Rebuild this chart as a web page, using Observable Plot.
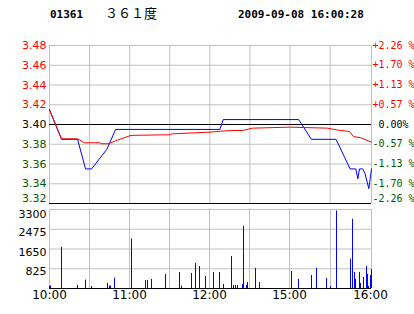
<!DOCTYPE html>
<html>
<head>
<meta charset="utf-8">
<script src="https://cdn.jsdelivr.net/npm/d3@7"></script>
<script src="https://cdn.jsdelivr.net/npm/@observablehq/plot@0.6"></script>
<style>
  html, body { margin: 0; padding: 0; background: #fff; }
  #wrap { position: relative; width: 414px; height: 314px; background: #fff; overflow: hidden; }
  .hdr { position: absolute; top: 8px; font-size: 11px; line-height: 14px; white-space: pre; color: #000; }
  .mono { font-family: "DejaVu Sans Mono", monospace; font-weight: bold; }
  .cjk { font-family: "Noto Sans CJK SC", sans-serif; font-size: 13px; top: 6px; }
  #p1, #p2 { position: absolute; left: 0; }
  #p1 { top: 0; }
  #p2 { top: 200px; }
</style>
</head>
<body>
<div id="wrap">
  <div class="hdr mono" id="code" style="left:50px"></div>
  <div class="hdr cjk" id="name" style="left:105px"></div>
  <div class="hdr mono" id="stamp" style="left:238px"></div>
  <div id="p1"></div>
  <div id="p2"></div>
</div>
<script>
// ---- header texts ----
const stockCode = "01361";
const stockName = "３６１度";
const stampText = "2009-09-08 16:00:28";

// ---- price axis ----
const priceTicks = [3.48, 3.46, 3.44, 3.42, 3.40, 3.38, 3.36, 3.34, 3.32];
const pctLabels = ["+2.26 %", "+1.70 %", "+1.13 %", "+0.57 %", "\u00a00.00%", "-0.57 %", "-1.13 %", "-1.70 %", "-2.26 %"];
const prevClose = 3.40;

// ---- time axis (minute index: 0 = 10:00, 150 = 12:30/14:30, 240 = 16:00) ----
const timeTicks = [0, 60, 120, 180, 240];
const timeLabels = ["10:00", "11:00", "12:00", "15:00", "16:00"];
const gridMinutes = [0, 30, 60, 90, 120, 150, 180, 210];
const endMinute = 241;

// ---- price line (blue) ----
const priceMin = [0, 9, 21, 27, 31.5, 43, 49.5, 127.5, 130, 186.5, 196, 214.5, 225, 229.3, 230.8, 232, 234.5, 236.2, 239, 240, 241];
const priceVal = [3.415, 3.385, 3.385, 3.355, 3.355, 3.375, 3.395, 3.395, 3.405, 3.405, 3.385, 3.385, 3.355, 3.355, 3.345, 3.355, 3.355, 3.35, 3.335, 3.345, 3.355];

// ---- average price line (red) ----
const avgMin = [0, 9, 21, 26, 38, 38.5, 44.5, 49.5, 61, 89.5, 92, 119.5, 128, 136, 144.5, 152, 179.5, 208, 214.5, 224.5, 227.5, 233, 241];
const avgVal = [3.415, 3.3855, 3.3855, 3.3815, 3.3815, 3.3805, 3.3805, 3.3835, 3.389, 3.3896, 3.3906, 3.3922, 3.3932, 3.3939, 3.3939, 3.3963, 3.3973, 3.3963, 3.3946, 3.3929, 3.3878, 3.3865, 3.3821];

// ---- volume ----
const volTicks = [825, 1650, 2475, 3300];
const volMin = [0, 1, 9, 21, 27, 31.5, 43.5, 45, 46, 49, 61.5, 72, 73, 76, 87, 97.5, 99, 106.5, 109.5, 112, 117, 123, 127, 130.5, 136.5, 138, 139.5, 141, 144.5, 145.5, 147.7, 148.5, 154.5, 157.5, 181, 186, 196, 199.5, 207, 210, 214.5, 225, 226.5, 228, 229, 232, 232.7, 235, 237, 238, 238.7, 240, 241];
const volVal = [100, 100, 1720, 125, 350, 85, 210, 100, 100, 430, 2070, 335, 335, 380, 590, 670, 100, 630, 1050, 920, 500, 670, 670, 170, 1340, 125, 125, 125, 170, 2600, 125, 250, 840, 250, 710, 380, 545, 840, 420, 85, 3240, 1230, 2890, 670, 380, 670, 210, 460, 920, 590, 85, 545, 800];

document.getElementById("code").textContent = stockCode;
document.getElementById("name").textContent = stockName;
document.getElementById("stamp").textContent = stampText;

const blue = priceMin.map((m, i) => ({m, v: priceVal[i]}));
const red = avgMin.map((m, i) => ({m, v: avgVal[i]}));
const vol = volMin.map((m, i) => ({m, v: volVal[i]}));
const priceTable = priceTicks.map((t, i) => ({t, pct: pctLabels[i]}));
const priceMain = priceTable.filter(d => d.t !== 3.32);
const priceLow = priceTable.filter(d => d.t === 3.32);

const GRID = "#c0c0c0";
const GREEN = "#005a00";
const colorFor = t => Math.abs(t - prevClose) < 1e-9 ? "#000" : (t > prevClose ? "#ff0000" : GREEN);
const labelFont = {fontFamily: "DejaVu Sans, sans-serif", fontSize: 11};
const pctFont = {fontFamily: "DejaVu Sans Mono, monospace", fontSize: 10};

const leftLabel = (data, dy) => Plot.text(data, {y: "t", frameAnchor: "left", dx: -3, dy, textAnchor: "end",
  text: d => d.t.toFixed(2), fill: d => colorFor(d.t), ...labelFont});
const rightLabel = (data, dy) => Plot.text(data, {y: "t", frameAnchor: "right", dx: 1, dy, textAnchor: "start",
  text: "pct", fill: d => colorFor(d.t), ...pctFont});

const p1 = Plot.plot({
  width: 414, height: 210,
  marginLeft: 49, marginRight: 43, marginTop: 45, marginBottom: 7,
  style: {background: "transparent", overflow: "visible", fontFamily: "DejaVu Sans, sans-serif"},
  x: {domain: [0, endMinute], axis: null},
  y: {domain: [3.32, 3.48], axis: null},
  marks: [
    Plot.ruleY(priceTicks.filter(t => t !== 3.40 && t !== 3.32), {stroke: GRID}),
    Plot.ruleX(gridMinutes, {stroke: GRID}),
    Plot.ruleX([endMinute], {stroke: GRID}),
    Plot.ruleY([3.40, 3.32], {stroke: "#000"}),
    Plot.line(blue, {x: "m", y: "v", stroke: "#0000ff", strokeWidth: 1}),
    Plot.line(red, {x: "m", y: "v", stroke: "#ff0000", strokeWidth: 1}),
    leftLabel(priceMain, 0),
    leftLabel(priceLow, -5),
    rightLabel(priceMain, 0),
    rightLabel(priceLow, -5)
  ]
});
document.getElementById("p1").appendChild(p1);

const p2 = Plot.plot({
  width: 414, height: 114,
  marginLeft: 49, marginRight: 43, marginTop: 9, marginBottom: 26,
  style: {background: "transparent", overflow: "visible", fontFamily: "DejaVu Sans, sans-serif"},
  x: {domain: [0, endMinute], axis: null, round: true},
  y: {domain: [0, 3300], axis: null},
  marks: [
    Plot.ruleY(volTicks, {stroke: GRID}),
    Plot.ruleX(gridMinutes, {stroke: GRID}),
    Plot.ruleX([endMinute], {stroke: GRID}),
    Plot.ruleX(vol, {x: "m", y1: 0, y2: "v", stroke: "#0000ff", strokeWidth: 1}),
    Plot.ruleY([0], {stroke: "#000"}),
    Plot.text(volTicks.filter(d => d !== 3300), {y: d => d, frameAnchor: "left", dx: -3, dy: 3, textAnchor: "end",
      text: d => String(d), fill: "#000", ...labelFont}),
    Plot.text(volTicks.filter(d => d === 3300), {y: d => d, frameAnchor: "left", dx: -3, dy: 5, textAnchor: "end",
      text: d => String(d), fill: "#000", ...labelFont}),
    Plot.text(timeTicks, {x: d => d, frameAnchor: "bottom", dy: 10,
      text: (d, i) => timeLabels[i], fill: "#000", ...labelFont, fontSize: 12})
  ]
});
document.getElementById("p2").appendChild(p2);
</script>
</body>
</html>
